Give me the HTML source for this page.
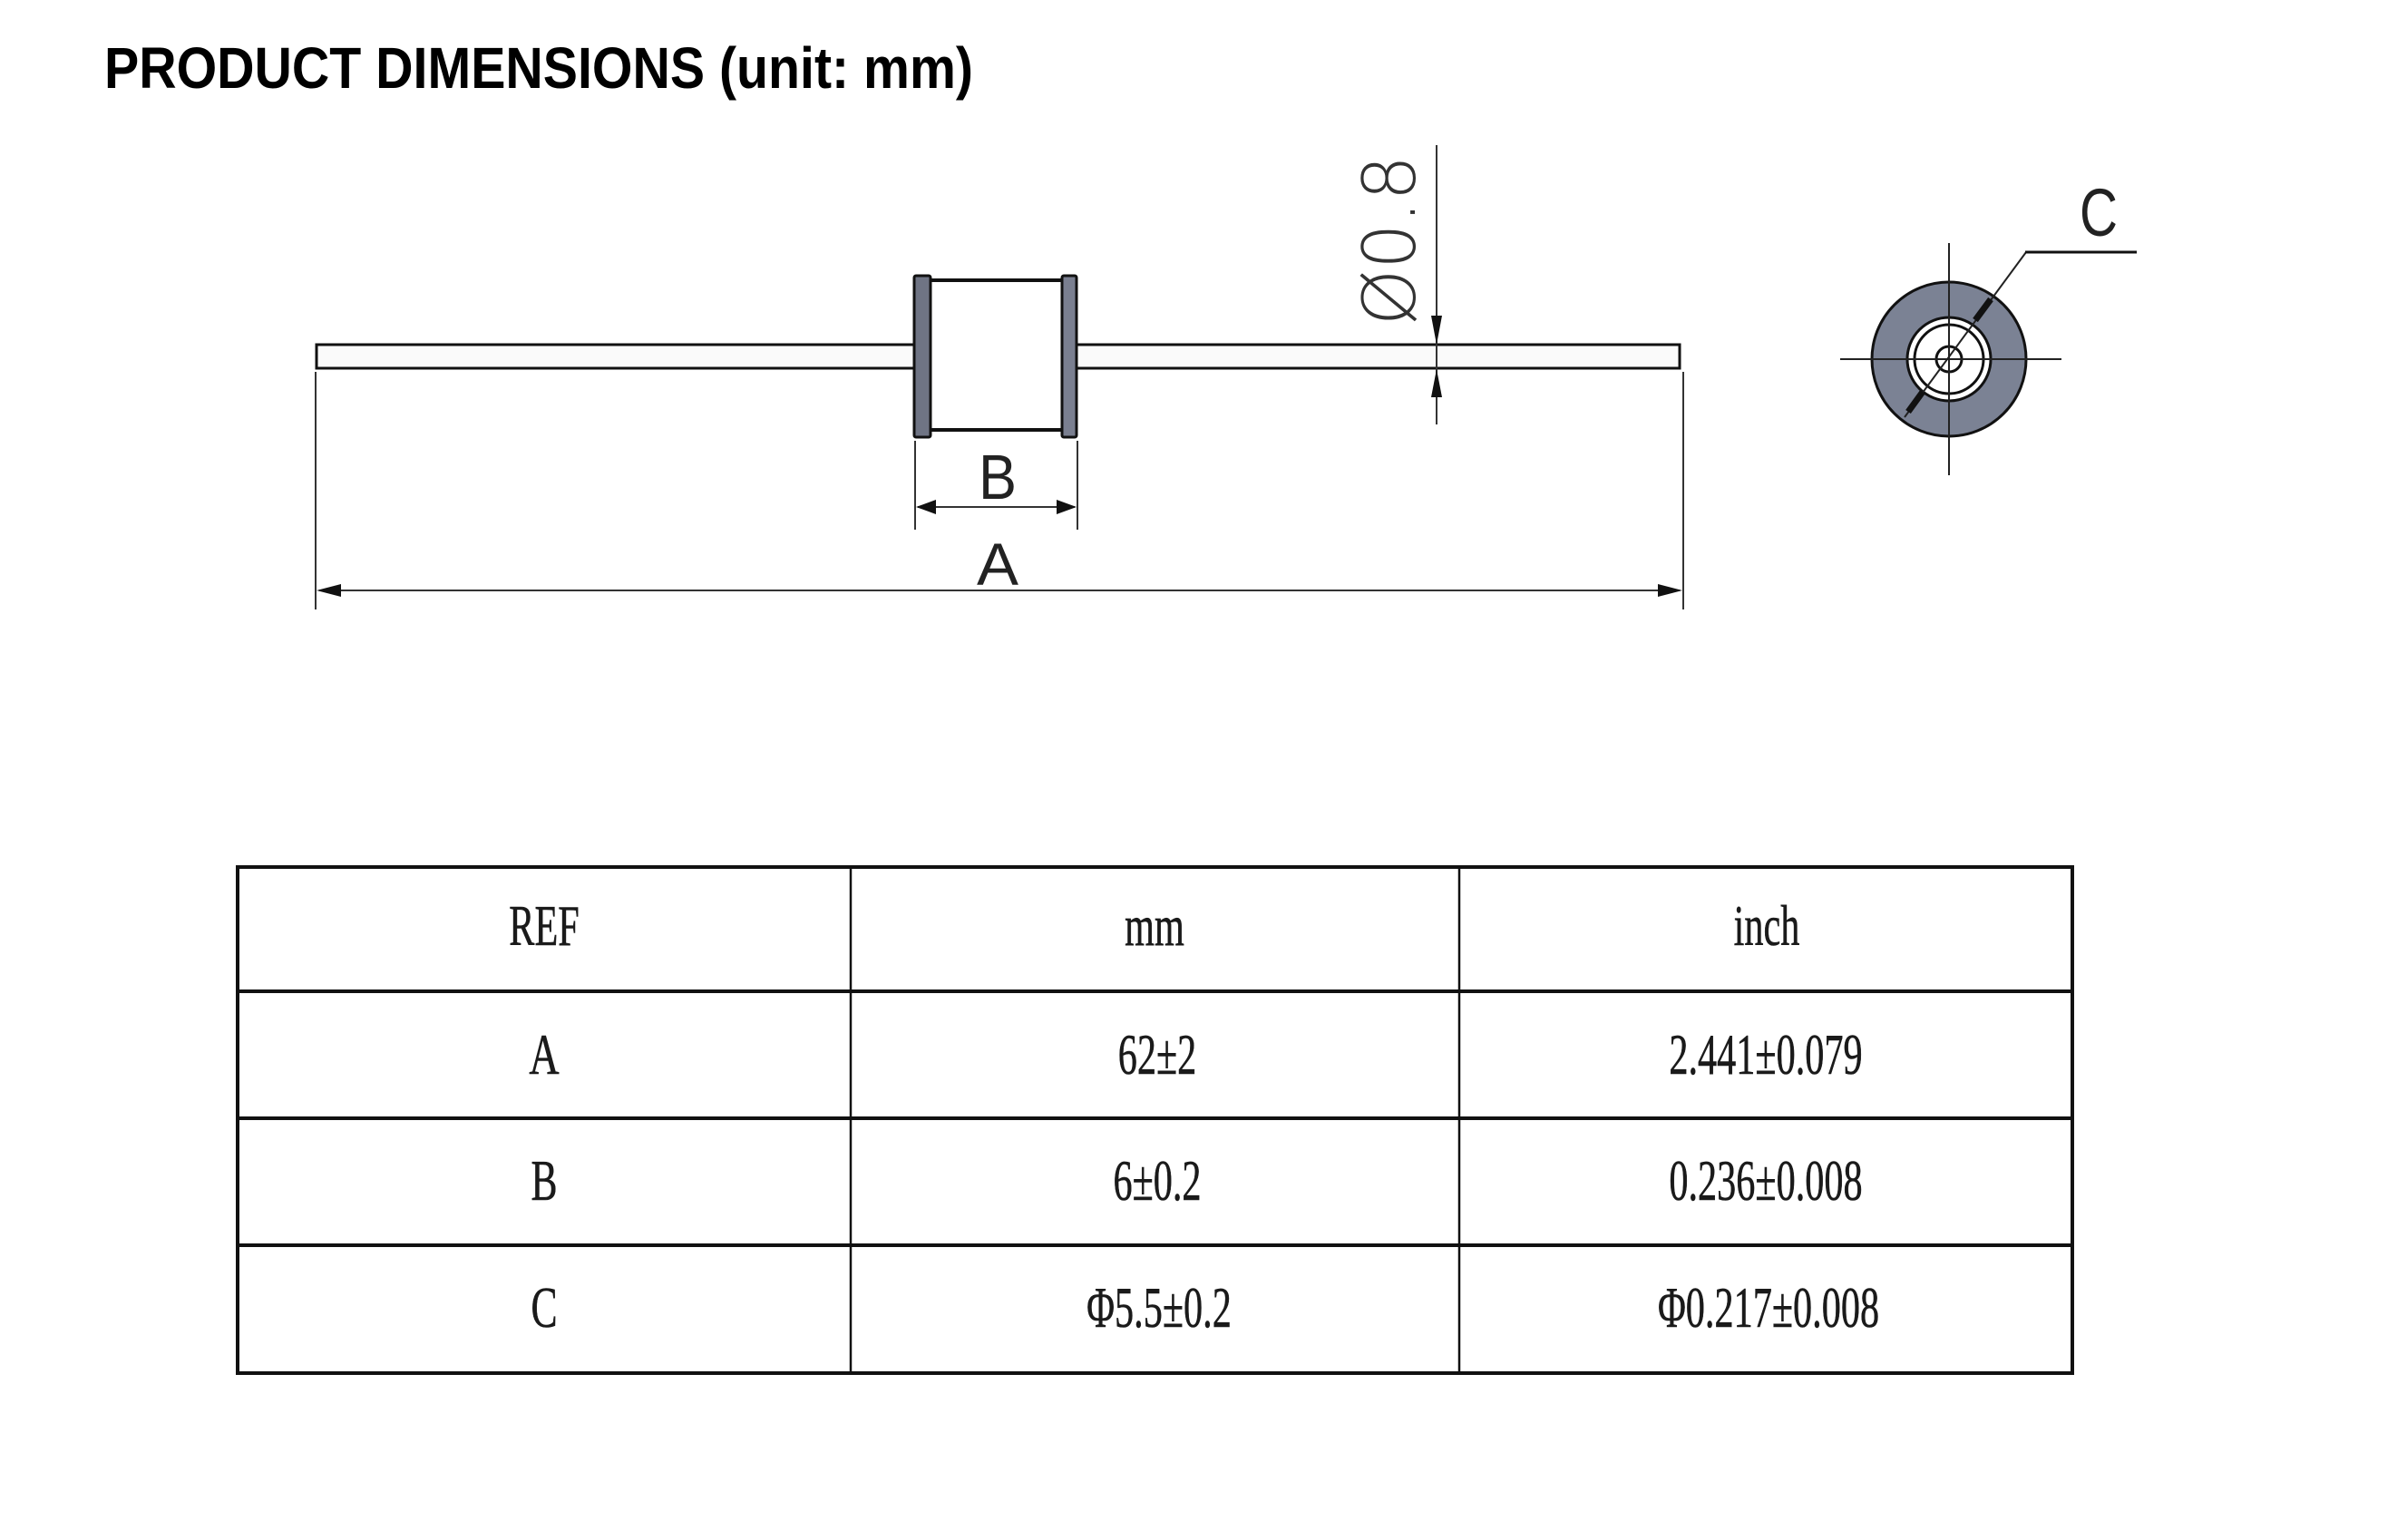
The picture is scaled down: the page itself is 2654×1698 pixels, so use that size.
<!DOCTYPE html>
<html><head><meta charset="utf-8"><style>
html,body{margin:0;padding:0;background:#fff;}
svg{display:block;}
</style></head><body>
<svg width="2654" height="1698" viewBox="0 0 2654 1698" xmlns="http://www.w3.org/2000/svg">
<rect width="2654" height="1698" fill="#fff"/>
<text x="115" y="97" font-family="Liberation Sans, sans-serif" font-weight="bold" font-size="64" textLength="958" lengthAdjust="spacingAndGlyphs" fill="#000">PRODUCT DIMENSIONS (unit: mm)</text>

<rect x="349" y="380" width="1503" height="26" fill="#fafafa" stroke="#111" stroke-width="3"/>
<rect x="1020" y="309" width="155" height="165" fill="#fff" stroke="#111" stroke-width="4"/>
<rect x="1008" y="304" width="18" height="178" fill="#6f7484" stroke="#111" stroke-width="3" rx="2"/>
<rect x="1171" y="304" width="16" height="178" fill="#7a7f90" stroke="#111" stroke-width="3" rx="2"/>

<g stroke="#333" stroke-width="2">
<line x1="1009" y1="486" x2="1009" y2="584"/>
<line x1="1188" y1="486" x2="1188" y2="584"/>
<line x1="1012" y1="559" x2="1185" y2="559"/>
<line x1="348" y1="410" x2="348" y2="672"/>
<line x1="1856" y1="410" x2="1856" y2="672"/>
<line x1="352" y1="651" x2="1852" y2="651"/>
<line x1="1584" y1="160" x2="1584" y2="468"/>
</g>
<g fill="#111">
<polygon points="1010,559 1032,551 1032,567"/>
<polygon points="1187,559 1165,551 1165,567"/>
<polygon points="349,651 376,644 376,658"/>
<polygon points="1855,651 1828,644 1828,658"/>
<polygon points="1584,380 1578,348 1590,348"/>
<polygon points="1584,407 1578,438 1590,438"/>
</g>
<text x="1100" y="550" font-family="Liberation Sans, sans-serif" font-size="70" fill="#222" text-anchor="middle" textLength="42" lengthAdjust="spacingAndGlyphs">B</text>
<text x="1100" y="645" font-family="Liberation Sans, sans-serif" font-size="66" fill="#222" text-anchor="middle" textLength="46" lengthAdjust="spacingAndGlyphs">A</text>
<text transform="translate(1560,265) rotate(-90)" font-family="DejaVu Sans, sans-serif" font-weight="200" font-size="80" fill="#333" text-anchor="middle" textLength="188" lengthAdjust="spacingAndGlyphs">Ø0.8</text>

<circle cx="2149" cy="396" r="85" fill="#7b8294" stroke="#111" stroke-width="3"/>
<circle cx="2149" cy="396" r="46" fill="#fff" stroke="#111" stroke-width="3"/>
<circle cx="2149" cy="396" r="38" fill="#fff" stroke="#111" stroke-width="3"/>
<circle cx="2149" cy="396" r="14" fill="#fff" stroke="#111" stroke-width="3"/>
<g stroke="#222" stroke-width="2">
<line x1="2029" y1="396" x2="2273" y2="396"/>
<line x1="2149" y1="268" x2="2149" y2="524"/>
<line x1="2100" y1="460" x2="2234" y2="278"/>
</g>
<line x1="2233" y1="278" x2="2356" y2="278" stroke="#111" stroke-width="3"/>
<line x1="2178" y1="353" x2="2195" y2="330" stroke="#111" stroke-width="7"/>
<line x1="2104" y1="454" x2="2120" y2="432" stroke="#111" stroke-width="7"/>
<text x="2314" y="260" font-family="Liberation Sans, sans-serif" font-size="74" fill="#222" text-anchor="middle" textLength="42" lengthAdjust="spacingAndGlyphs">C</text>

<g stroke="#111" stroke-width="4" fill="none">
<rect x="262" y="956" width="2023" height="558"/>
<line x1="262" y1="1093" x2="2285" y2="1093"/>
<line x1="262" y1="1233" x2="2285" y2="1233"/>
<line x1="262" y1="1373" x2="2285" y2="1373"/>
</g>
<g stroke="#111" stroke-width="2.5">
<line x1="938" y1="956" x2="938" y2="1514"/>
<line x1="1609" y1="956" x2="1609" y2="1514"/>
</g>
<g font-family="Liberation Serif, serif" font-size="64" fill="#1a1a1a" stroke="#1a1a1a" stroke-width="0.6" text-anchor="middle">
<text transform="translate(600,1042) scale(0.66,1)">REF</text>
<text transform="translate(1273,1042) scale(0.66,1)">mm</text>
<text transform="translate(1948,1042) scale(0.66,1)">inch</text>
<text transform="translate(600,1184) scale(0.72,1)">A</text>
<text transform="translate(600,1323) scale(0.68,1)">B</text>
<text transform="translate(600,1463) scale(0.68,1)">C</text>
<text transform="translate(1276,1184) scale(0.66,1)">62±2</text>
<text transform="translate(1276,1323) scale(0.66,1)">6±0.2</text>
<text transform="translate(1278,1463) scale(0.66,1)">Φ5.5±0.2</text>
<text transform="translate(1947,1184) scale(0.66,1)">2.441±0.079</text>
<text transform="translate(1947,1323) scale(0.66,1)">0.236±0.008</text>
<text transform="translate(1950,1463) scale(0.66,1)">Φ0.217±0.008</text>
</g>
</svg>
</body></html>
